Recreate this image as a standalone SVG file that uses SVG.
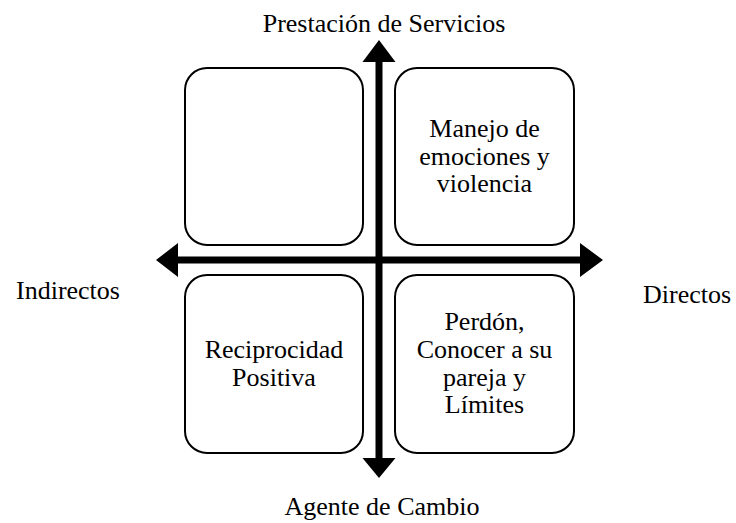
<svg xmlns="http://www.w3.org/2000/svg" width="736" height="523" viewBox="0 0 736 523">
<style>
.box{fill:#fff;stroke:#000;stroke-width:2}
.t{font-family:'Liberation Serif','Times New Roman',serif;font-size:26px;fill:#000;text-anchor:middle}
.l{font-family:'Liberation Serif','Times New Roman',serif;font-size:26px;fill:#000}
.ax{fill:#000}
</style>
<rect width="736" height="523" fill="#fff"/>
<g id="connectors">
<polygon class="ax" points="375.5,458 375.5,62 362.5,62 379,40 395.5,62 382.5,62 382.5,458 395.5,458 379,478 362.5,458"/>
<polygon class="ax" points="178,256.5 580,256.5 580,243 603,260 580,277 580,263.5 178,263.5 178,277 156,260 178,243"/>
</g>
<g id="node-tl"><rect class="box" x="185" y="68" width="178" height="177" rx="22"/></g>
<g id="node-tr"><rect class="box" x="395" y="68" width="179" height="177" rx="22"/>
<text class="t" x="484.5" y="137">Manejo de</text>
<text class="t" x="484.5" y="165">emociones y</text>
<text class="t" x="484.5" y="192">violencia</text></g>
<g id="node-bl"><rect class="box" x="185" y="275" width="178" height="178" rx="22"/>
<text class="t" x="274" y="358">Reciprocidad</text>
<text class="t" x="274" y="386">Positiva</text></g>
<g id="node-br"><rect class="box" x="395" y="275" width="179" height="178" rx="22"/>
<text class="t" x="484.5" y="330">Perdón,</text>
<text class="t" x="484.5" y="358">Conocer a su</text>
<text class="t" x="484.5" y="386">pareja y</text>
<text class="t" x="484.5" y="413">Límites</text></g>
<g id="label-top"><text class="t" x="384" y="32">Prestación de Servicios</text></g>
<g id="label-bottom"><text class="t" x="382" y="515">Agente de Cambio</text></g>
<g id="label-left"><text class="l" x="16" y="299">Indirectos</text></g>
<g id="label-right"><text class="l" x="643" y="303">Directos</text></g>
</svg>
